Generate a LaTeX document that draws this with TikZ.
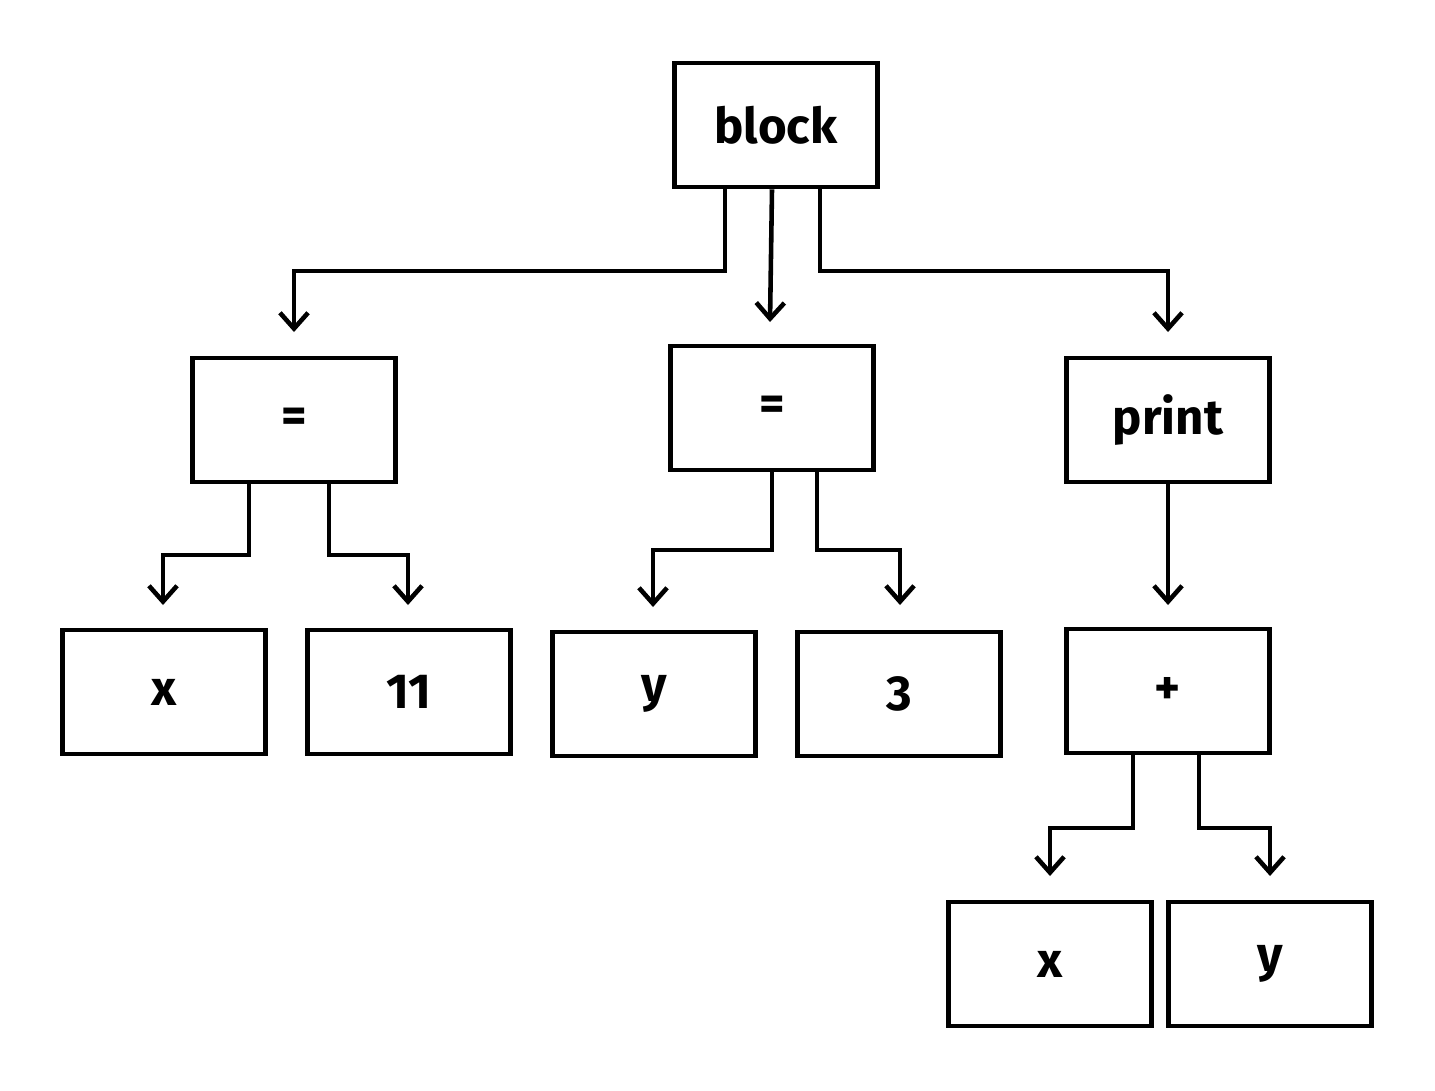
\documentclass[tikz,border=0pt]{standalone}
\usepackage{fontspec}
\setmainfont{Fira Sans}
\usetikzlibrary{arrows.meta}
\begin{document}
\begin{tikzpicture}[x=0.02cm,y=-0.02cm,
  box/.style={draw,line width=2.6pt,minimum width=4.06cm,minimum height=2.48cm,inner sep=0pt,font=\fontsize{28}{32}\selectfont\bfseries},
  conn/.style={line width=2.6pt,-{Straight Barb[length=9pt,width=16pt,line width=2.6pt]}}]
\useasboundingbox (0,0) rectangle (1435,1090);
\node[box] (block) at (776,125) {block};
\node[box] (eqa) at (294,420) {=};
\node[box] (eqb) at (772,408) {=};
\node[box] (print) at (1168,420) {print};
\node[box] (xa) at (164,692) {x};
\node[box] (n11) at (409,692) {11};
\node[box] (ya) at (654,694) {y};
\node[box] (n3) at (899,694) {3};
\node[box] (plus) at (1168,691) {+};
\node[box] (xb) at (1050,964) {x};
\node[box] (yb) at (1270,964) {y};
\coordinate (ea) at (294,332);
\coordinate (eb) at (770,322);
\coordinate (ec) at (1168,332);
\draw[conn] (block.south -| 725,0) |- (294,271) -- (ea);
\draw[conn] (block.south -| 772,0) -- (eb);
\draw[conn] (block.south -| 820,0) |- (1168,271) -- (ec);
\draw[conn] (eqa.south -| 249,0) |- (163,555) -- (163,605);
\draw[conn] (eqa.south -| 329,0) |- (408,555) -- (408,605);
\draw[conn] (eqb.south -| 772,0) |- (653,550) -- (653,607);
\draw[conn] (eqb.south -| 817,0) |- (900,550) -- (900,605);
\draw[conn] (print.south) -- (1168,605);
\draw[conn] (plus.south -| 1133,0) |- (1050,828) -- (1050,876);
\draw[conn] (plus.south -| 1199,0) |- (1270,828) -- (1270,876);
\end{tikzpicture}
\end{document}
